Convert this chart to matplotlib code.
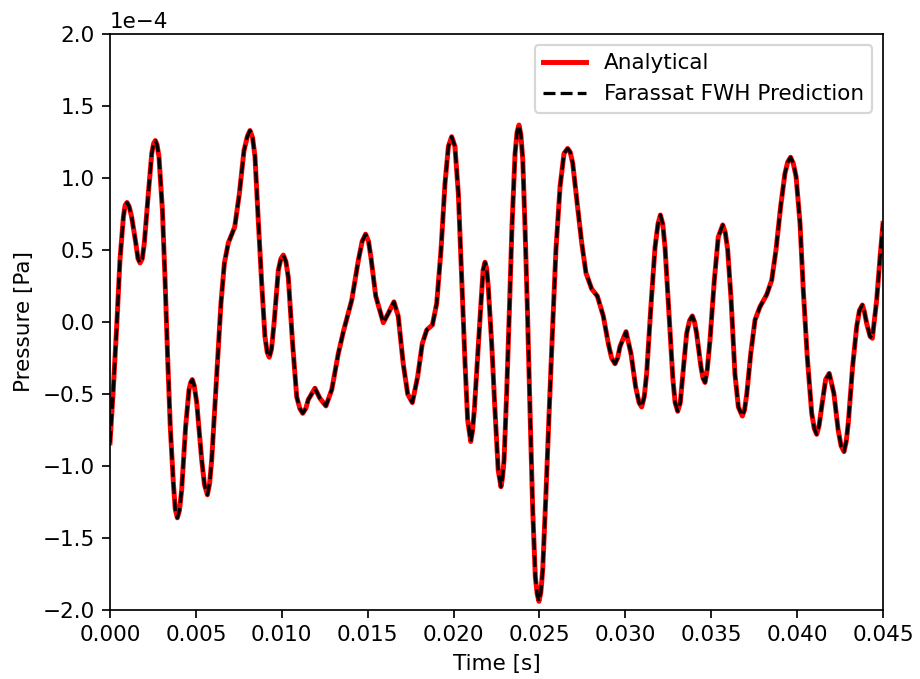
#!/usr/bin/env python3

import numpy as np
import matplotlib
matplotlib.use("Agg")
import matplotlib.pyplot as plt


###################################################
# DATA (pressure in 1e-4 Pa)
###################################################

time_s = [
    0.00000, 0.00019, 0.00039, 0.00058, 0.00078, 0.00088, 0.00099, 0.00112,
    0.00126, 0.00150, 0.00163, 0.00175, 0.00188, 0.00200, 0.00223, 0.00243,
    0.00254, 0.00264, 0.00274, 0.00285, 0.00305, 0.00320, 0.00336, 0.00351,
    0.00369, 0.00380, 0.00392, 0.00404, 0.00417, 0.00440, 0.00460, 0.00470,
    0.00479, 0.00490, 0.00505, 0.00534, 0.00550, 0.00567, 0.00580, 0.00592,
    0.00621, 0.00646, 0.00666, 0.00689, 0.00726, 0.00753, 0.00780, 0.00800,
    0.00815, 0.00830, 0.00844, 0.00863, 0.00883, 0.00902, 0.00915, 0.00927,
    0.00940, 0.00955, 0.00980, 0.00995, 0.01009, 0.01024, 0.01038, 0.01063,
    0.01087, 0.01105, 0.01122, 0.01140, 0.01154, 0.01193, 0.01222, 0.01257,
    0.01291, 0.01329, 0.01360, 0.01407, 0.01446, 0.01468, 0.01488, 0.01505,
    0.01519, 0.01547, 0.01591, 0.01620, 0.01653, 0.01678, 0.01707, 0.01733,
    0.01760, 0.01791, 0.01818, 0.01844, 0.01877, 0.01902, 0.01927, 0.01950,
    0.01970, 0.01989, 0.02008, 0.02028, 0.02047, 0.02067, 0.02082, 0.02100,
    0.02110, 0.02121, 0.02137, 0.02158, 0.02172, 0.02183, 0.02193, 0.02202,
    0.02222, 0.02241, 0.02260, 0.02276, 0.02285, 0.02294, 0.02309, 0.02325,
    0.02340, 0.02358, 0.02370, 0.02381, 0.02392, 0.02403, 0.02416, 0.02430,
    0.02445, 0.02461, 0.02476, 0.02487, 0.02497, 0.02508, 0.02519, 0.02538,
    0.02557, 0.02577, 0.02596, 0.02620, 0.02643, 0.02664, 0.02679, 0.02694,
    0.02720, 0.02746, 0.02771, 0.02804, 0.02837, 0.02872, 0.02901, 0.02920,
    0.02940, 0.02955, 0.02969, 0.03004, 0.03033, 0.03060, 0.03080, 0.03095,
    0.03110, 0.03124, 0.03149, 0.03173, 0.03190, 0.03204, 0.03218, 0.03231,
    0.03254, 0.03277, 0.03290, 0.03305, 0.03320, 0.03332, 0.03357, 0.03374,
    0.03390, 0.03403, 0.03415, 0.03440, 0.03452, 0.03464, 0.03477, 0.03493,
    0.03518, 0.03541, 0.03567, 0.03582, 0.03596, 0.03616, 0.03638, 0.03658,
    0.03681, 0.03694, 0.03707, 0.03730, 0.03755, 0.03784, 0.03823, 0.03852,
    0.03877, 0.03904, 0.03929, 0.03945, 0.03962, 0.03978, 0.03994, 0.04017,
    0.04036, 0.04059, 0.04085, 0.04100, 0.04114, 0.04128, 0.04143, 0.04166,
    0.04187, 0.04214, 0.04239, 0.04256, 0.04273, 0.04286, 0.04298, 0.04323,
    0.04347, 0.04363, 0.04380, 0.04392, 0.04405, 0.04425, 0.04438, 0.04463,
    0.04483, 0.04500,
]

pressure_e4 = [
    -0.84, -0.47, -0.03, 0.43, 0.73, 0.81, 0.83, 0.80,
    0.73, 0.55, 0.44, 0.41, 0.44, 0.55, 0.89, 1.17,
    1.24, 1.26, 1.23, 1.15, 0.78, 0.31, -0.26, -0.73,
    -1.12, -1.30, -1.36, -1.31, -1.17, -0.73, -0.47, -0.42,
    -0.40, -0.44, -0.56, -0.96, -1.13, -1.20, -1.12, -0.96,
    -0.38, 0.13, 0.41, 0.55, 0.66, 0.89, 1.19, 1.29,
    1.33, 1.28, 1.15, 0.71, 0.27, -0.10, -0.21, -0.245,
    -0.19, -0.01, 0.36, 0.44, 0.465, 0.42, 0.31, -0.15,
    -0.52, -0.60, -0.634, -0.60, -0.54, -0.46, -0.53, -0.583,
    -0.47, -0.22, -0.06, 0.15, 0.43, 0.56, 0.61, 0.56,
    0.45, 0.18, -0.005, 0.06, 0.14, 0.04, -0.29, -0.50,
    -0.56, -0.38, -0.15, -0.055, -0.02, 0.13, 0.50, 0.96,
    1.22, 1.287, 1.22, 0.89, 0.31, -0.29, -0.68, -0.83,
    -0.76, -0.61, -0.30, 0.10, 0.36, 0.415, 0.37, 0.245,
    -0.15, -0.61, -1.03, -1.144, -1.08, -0.96, -0.50, 0.083,
    0.66, 1.17, 1.32, 1.368, 1.30, 1.125, 0.66, 0.083,
    -0.61, -1.31, -1.77, -1.89, -1.94, -1.88, -1.72, -1.19,
    -0.61, -0.03, 0.50, 0.94, 1.17, 1.205, 1.18, 1.10,
    0.82, 0.55, 0.34, 0.23, 0.18, 0.04, -0.15, -0.25,
    -0.29, -0.25, -0.17, -0.067, -0.22, -0.45, -0.56, -0.59,
    -0.52, -0.36, 0.11, 0.52, 0.68, 0.743, 0.68, 0.52,
    0.06, -0.40, -0.56, -0.62, -0.56, -0.40, -0.08, 0.01,
    0.042, 0.00, -0.08, -0.31, -0.39, -0.42, -0.33, -0.125,
    0.29, 0.59, 0.674, 0.62, 0.50, 0.15, -0.36, -0.59,
    -0.653, -0.61, -0.50, -0.22, 0.014, 0.106, 0.19, 0.29,
    0.50, 0.80, 1.03, 1.11, 1.144, 1.10, 1.01, 0.685,
    0.22, -0.24, -0.634, -0.74, -0.78, -0.72, -0.59, -0.40,
    -0.357, -0.495, -0.75, -0.86, -0.90, -0.83, -0.70, -0.31,
    -0.03, 0.08, 0.118, 0.07, -0.01, -0.10, -0.113, 0.15,
    0.45, 0.685,
]

t = np.array(time_s)
p = np.array(pressure_e4) * 1e-4

###################################################
# PLOT
###################################################

DPI = 155
fig = plt.figure(figsize=(920 / DPI, 679 / DPI), dpi=DPI)
ax = fig.add_axes([110 / 920, 1 - 610 / 679, 773 / 920, 576 / 679])

ax.plot(t, p, color="red", linewidth=2.3, label="Analytical")
ax.plot(t, p, color="black", linestyle="--", linewidth=1.5,
        label="Farassat FWH Prediction")

ax.set_xlim(0, 0.045)
ax.set_ylim(-2e-4, 2e-4)
ax.set_xticks(np.arange(0, 0.0451, 0.005))
ax.set_yticks(np.arange(-2e-4, 2.01e-4, 0.5e-4))
ax.set_xlabel("Time [s]")
ax.set_ylabel("Pressure [Pa]")
ax.ticklabel_format(axis="y", style="sci", scilimits=(0, 0))
ax.legend(loc="upper right")

fig.savefig("out.png", dpi=DPI)
plt.close()
